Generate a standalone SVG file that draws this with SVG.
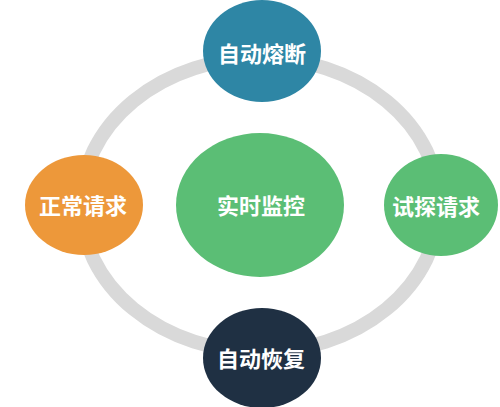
<svg xmlns="http://www.w3.org/2000/svg" width="500" height="407" viewBox="0 0 500 407">
<style>
.lbl{font-family:"Noto Sans CJK SC","Noto Sans",sans-serif;font-weight:bold;font-size:22px;fill:#ffffff;text-anchor:middle;dominant-baseline:central}
.ring{fill:none;stroke:#d9d9d9;stroke-width:14}
</style>
<rect width="500" height="407" fill="#ffffff"/>
<g id="connectors">
<ellipse class="ring" cx="260" cy="205" rx="179" ry="147"/>
</g>
<g id="center">
<ellipse cx="260" cy="205" rx="84" ry="72" fill="#5bbe75"/>
<text class="lbl" x="261" y="204">实时监控</text>
</g>
<g id="top">
<ellipse cx="262" cy="51" rx="59" ry="51" fill="#2e86a5"/>
<text class="lbl" x="262" y="52">自动熔断</text>
</g>
<g id="left">
<ellipse cx="84" cy="205" rx="59" ry="50" fill="#ed983a"/>
<text class="lbl" x="83" y="204">正常请求</text>
</g>
<g id="right">
<ellipse cx="441" cy="205" rx="57" ry="51" fill="#5bbe75"/>
<text class="lbl" x="436" y="205">试探请求</text>
</g>
<g id="bottom">
<ellipse cx="262" cy="358" rx="59" ry="50" fill="#1f3043"/>
<text class="lbl" x="261" y="357">自动恢复</text>
</g>
</svg>
